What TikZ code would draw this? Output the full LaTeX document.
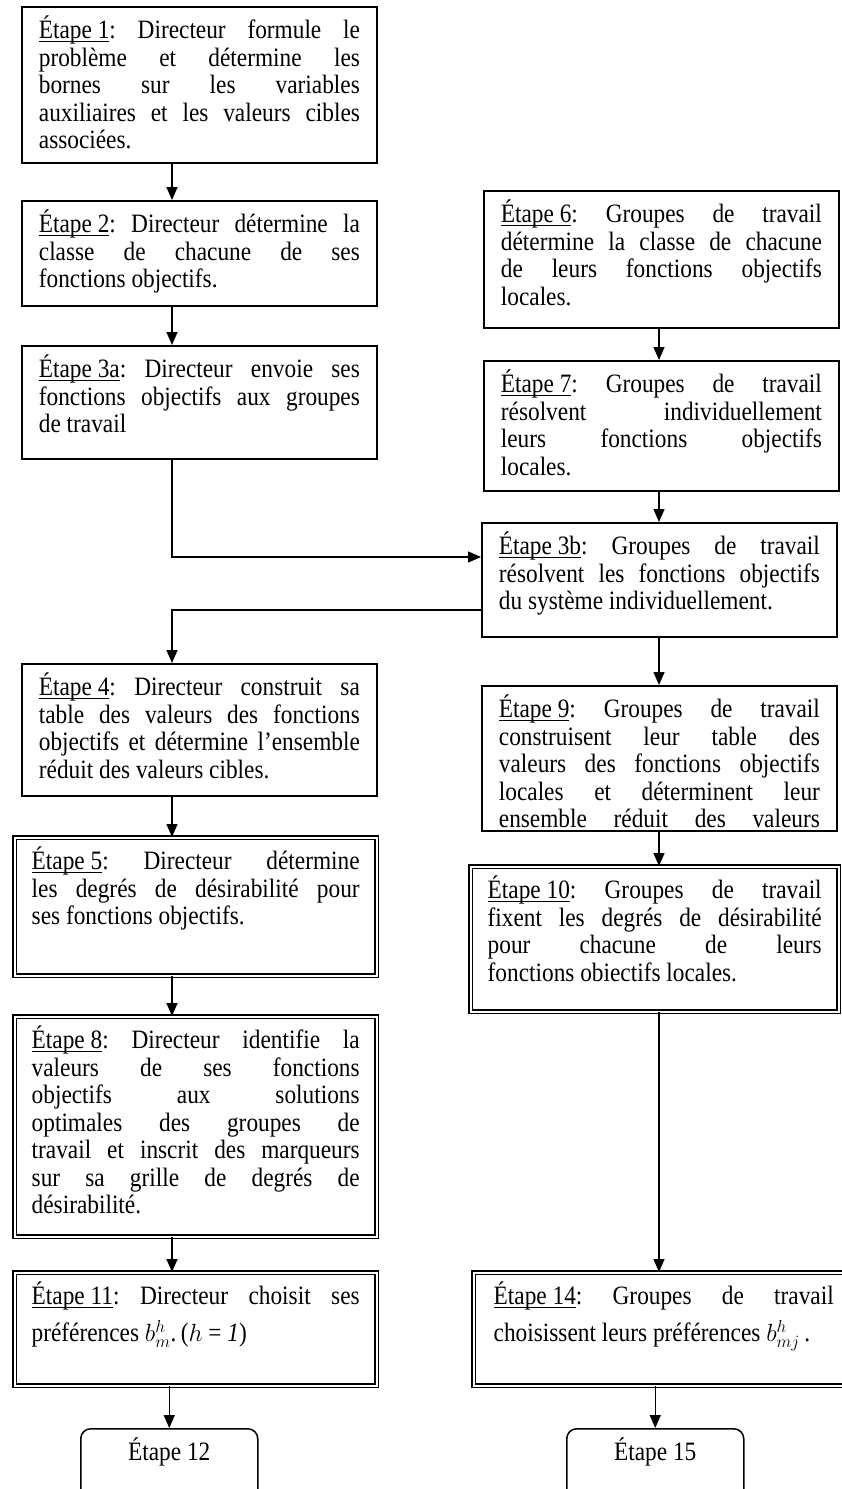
\documentclass[tikz,border=0pt]{standalone}
\usepackage{fontspec}
\setmainfont{Liberation Serif}[FakeStretch=0.88]
\usetikzlibrary{arrows.meta}
\tolerance=10000
\hyphenpenalty=10000
\frenchspacing
% underlined step label, rule set just under the baseline
\newcommand\stepul[1]{\leavevmode\setbox0\hbox{#1}\rlap{\rule[-3.5pt]{\wd0}{1.1pt}}\box0}
\begin{document}
\begin{tikzpicture}[x=1pt,y=-1pt,
  txt/.style={font=\fontsize{26.5pt}{27.5pt}\selectfont},
  stepbox/.style={txt, draw, line width=1.8pt, anchor=north west, inner xsep=17pt,
    inner ysep=10pt, text height=22pt, align=justify},
  dblbox/.style={stepbox, line width=1.4pt, double, double distance=2.4pt},
  endbox/.style={txt, draw, line width=1.5pt, rounded corners=10pt, anchor=north west,
    inner xsep=0pt, inner ysep=10pt, text height=22pt, text depth=80pt, align=center},
  arr/.style={line width=1.4pt, -{Triangle[length=13pt,width=11pt]}}
]
\useasboundingbox (0,0) rectangle (842,1489);
\fill[white] (0,0) rectangle (842,1489);
\clip (0,0) rectangle (842,1489);

% ---------- Directeur (left column) ----------
\node[stepbox, text width=321pt, text depth=114pt] (s1) at (21,6)
  {\stepul{Étape 1}: Directeur formule le\linebreak problème et détermine les\linebreak
   bornes sur les variables\linebreak auxiliaires et les valeurs cibles\linebreak associées.};
\node[stepbox, text width=321pt, text depth=63pt] (s2) at (21,200)
  {\stepul{Étape 2}: Directeur détermine la\linebreak classe de chacune de ses\linebreak
   fonctions objectifs.};
\node[stepbox, text width=321pt, text depth=71pt] (s3a) at (21,345)
  {\stepul{Étape 3a}: Directeur envoie ses\linebreak fonctions objectifs aux groupes\linebreak
   de travail};
\node[stepbox, text width=321pt, text depth=90pt] (s4) at (21,663)
  {\stepul{Étape 4}: Directeur construit sa\linebreak table des valeurs des fonctions\linebreak
   objectifs et détermine l'ensemble\linebreak réduit des valeurs cibles.};
\node[dblbox, text width=328pt, text depth=96pt] (s5) at (14,837)
  {\stepul{Étape 5}: Directeur détermine\linebreak les degrés de désirabilité pour\linebreak
   ses fonctions objectifs.};
\node[dblbox, text width=328pt, text depth=178pt] (s8) at (14,1016)
  {\stepul{Étape 8}: Directeur identifie la\linebreak valeurs de ses fonctions\linebreak
   objectifs aux solutions\linebreak optimales des groupes de\linebreak
   travail et inscrit des marqueurs\linebreak sur sa grille de degrés de\linebreak désirabilité.};
\node[dblbox, text width=328pt, text depth=71pt] (s11) at (14,1272)
  {\stepul{Étape 11}: Directeur choisit ses\linebreak
   \rule{0pt}{30pt}préférences $b^{h}_{m}$.\,($h$ = \textit{1})};
\node[endbox, minimum width=177pt] (s12) at (80,1428) {Étape 12};

% ---------- Groupes de travail (right column) ----------
\node[stepbox, text width=321pt, text depth=95pt] (s6) at (483,190)
  {\stepul{Étape 6}: Groupes de travail\linebreak détermine la classe de chacune\linebreak
   de leurs fonctions objectifs\linebreak locales.};
\node[stepbox, text width=321pt, text depth=88pt] (s7) at (483,360)
  {\stepul{Étape 7}: Groupes de travail\linebreak résolvent individuellement\linebreak
   leurs fonctions objectifs\linebreak locales.};
\node[stepbox, text width=321pt, text depth=72pt] (s3b) at (481,522)
  {\stepul{Étape 3b}: Groupes de travail\linebreak résolvent les fonctions objectifs\linebreak
   du système individuellement.};
\node[stepbox, text width=321pt, text depth=103pt] (s9) at (481,685)
  {\stepul{Étape 9}: Groupes de travail\linebreak construisent leur table des\linebreak
   valeurs des fonctions objectifs\linebreak locales et déterminent leur\linebreak
   ensemble réduit des valeurs\parfillskip=0pt\par};
\node[dblbox, text width=334pt, text depth=103pt] (s10) at (470,866)
  {\stepul{Étape 10}: Groupes de travail\linebreak fixent les degrés de désirabilité\linebreak
   pour chacune de leurs\linebreak fonctions obiectifs locales.};
\node[dblbox, text width=340pt, minimum width=380pt, text depth=71pt] (s14) at (473,1272)
  {\stepul{Étape 14}: Groupes de travail\linebreak
   \rule{0pt}{30pt}choisissent leurs préférences $b^{h}_{mj}$\,.};
\node[endbox, minimum width=177pt] (s15) at (566,1428) {Étape 15};

% ---------- connectors ----------
\coordinate (xl) at (172,0);
\coordinate (xr) at (659,0);
\draw[arr] (s1.south -| xl) -- (s2.north -| xl);
\draw[arr] (s2.south -| xl) -- (s3a.north -| xl);
\draw[arr] (s3a.south -| xl) |- ([yshift=-35pt]s3b.north west);
\draw[arr] ([yshift=-88pt]s3b.north west) -| (s4.north -| xl);
\draw[arr] (s4.south -| xl) -- (s5.north -| xl);
\draw[arr] (s5.south -| xl) -- (s8.north -| xl);
\draw[arr] (s8.south -| xl) -- (s11.north -| xl);
\draw[arr] (s11.south -| s12.north) -- (s12.north);

\draw[arr] (s6.south -| xr) -- (s7.north -| xr);
\draw[arr] (s7.south -| xr) -- (s3b.north -| xr);
\draw[arr] (s3b.south -| xr) -- (s9.north -| xr);
\draw[arr] (s9.south -| xr) -- (s10.north -| xr);
\draw[arr] (s10.south -| xr) -- (s14.north -| xr);
\draw[arr] (s14.south -| s15.north) -- (s15.north);
\end{tikzpicture}
\end{document}
